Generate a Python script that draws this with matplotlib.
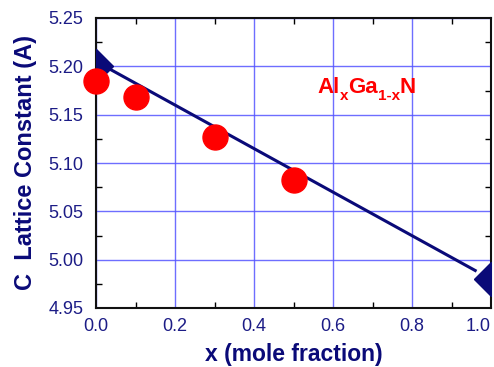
import matplotlib
matplotlib.use("Agg")
import matplotlib.pyplot as plt

plt.rcParams['font.family'] = ['Liberation Sans', 'DejaVu Sans']

# data
x_meas = [0.0, 0.1, 0.3, 0.5]
c_meas = [5.185, 5.1685, 5.127, 5.0825]
x_ref = [0.0, 1.0]
c_ref = [5.20, 4.98]
x_line = [0.0, 0.96]
c_line = [5.205, 4.9888]
xticks = [0.0, 0.2, 0.4, 0.6, 0.8, 1.0]
xticklabels = ['0.0', '0.2', '0.4', '0.6', '0.8', '1.0']
yticks = [4.95, 5.00, 5.05, 5.10, 5.15, 5.20, 5.25]
yticklabels = ['4.95', '5.00', '5.05', '5.10', '5.15', '5.20', '5.25']

navy = '#0a0a78'
lab = '#1c1c86'

fig = plt.figure(figsize=(4.94, 3.67), dpi=100)
ax = fig.add_axes([96/494, 1-308/367, (491-96)/494, (308-18)/367])

ax.set_xlim(0, 1.0)
ax.set_ylim(4.95, 5.25)
ax.set_xticks(xticks)
ax.set_xticks([0.1, 0.3, 0.5, 0.7, 0.9], minor=True)
ax.set_yticks(yticks)
ax.set_yticks([4.975, 5.025, 5.075, 5.125, 5.175, 5.225], minor=True)
ax.set_xticklabels(xticklabels)
ax.set_yticklabels(yticklabels)
ax.get_xticklabels()[-1].set_horizontalalignment('right')

ax.grid(True, which='major', color='#5555ff', linewidth=1.0, alpha=0.85)
ax.set_axisbelow(True)

ax.tick_params(which='both', direction='in', top=True, right=True,
               colors='black', labelcolor=lab, labelsize=13, width=1)
ax.tick_params(axis='y', which='major', length=0, pad=9)
ax.tick_params(axis='x', which='major', length=0, pad=7)
ax.tick_params(which='minor', length=4)
for s in ax.spines.values():
    s.set_linewidth(1.5)
    s.set_color('#111111')

ax.plot(x_line, c_line, color=navy, linewidth=2.2, zorder=3)
ax.plot(x_ref, c_ref, linestyle='none', marker='D', markersize=17,
        color=navy, zorder=4, clip_on=True)
ax.plot(x_meas, c_meas, linestyle='none', marker='o', markersize=18,
        color='#ff0000', zorder=5, clip_on=False)

# Al_x Ga_{1-x} N
red = '#ff0000'
t1 = ax.text(0.56, 5.1776, 'Al', color=red, fontsize=16, fontweight='bold',
             va='center', ha='left')
t2 = ax.annotate('x', xy=(1, 0), xycoords=t1, xytext=(0, -3), textcoords='offset points',
                 color=red, fontsize=11, fontweight='bold', va='bottom', ha='left')
t3 = ax.annotate('Ga', xy=(1, 0), xycoords=t2, xytext=(0, 3), textcoords='offset points',
                 color=red, fontsize=16, fontweight='bold', va='bottom', ha='left')
t4 = ax.annotate('1-x', xy=(1, 0), xycoords=t3, xytext=(0, -3), textcoords='offset points',
                 color=red, fontsize=11, fontweight='bold', va='bottom', ha='left')
t5 = ax.annotate('N', xy=(1, 0), xycoords=t4, xytext=(0, 3), textcoords='offset points',
                 color=red, fontsize=16, fontweight='bold', va='bottom', ha='left')

ax.set_xlabel('x (mole fraction)', fontsize=16.5, fontweight='bold', color=navy, labelpad=6)
ax.set_ylabel('C  Lattice Constant (A)', fontsize=17, fontweight='bold', color=navy, labelpad=8)

fig.savefig('out.png', dpi=100)
